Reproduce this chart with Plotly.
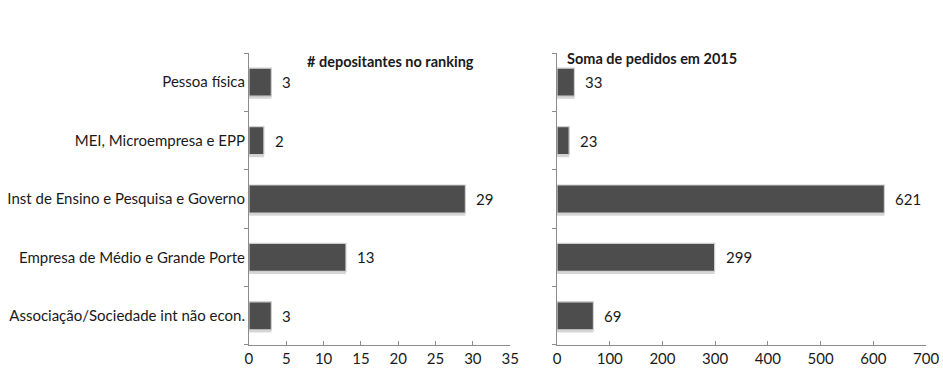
import plotly.graph_objects as go

categories = [
    "Pessoa física",
    "MEI, Microempresa e EPP",
    "Inst de Ensino e Pesquisa e Governo",
    "Empresa de Médio e Grande Porte",
    "Associação/Sociedade int não econ.",
]
depositantes = [3, 2, 29, 13, 3]
pedidos_2015 = [33, 23, 621, 299, 69]

left_title = "# depositantes no ranking"
right_title = "Soma de pedidos em 2015"
left_ticks = [0, 5, 10, 15, 20, 25, 30, 35]
right_ticks = [0, 100, 200, 300, 400, 500, 600, 700]

FONT = "Lato, 'Open Sans', sans-serif"
BAR = "#4d4d4d"
TXT = "#1a1a1a"

fig = go.Figure()
value_labels = []

def add_panel(values, xa, ya):
    # soft drop shadow just under each bar
    fig.add_trace(go.Bar(
        x=values, y=categories, orientation="h",
        marker=dict(color="rgba(0,0,0,0.16)", line=dict(width=0)),
        width=0.48, offset=-0.285, xaxis=xa, yaxis=ya,
        hoverinfo="skip", showlegend=False,
    ))
    fig.add_trace(go.Bar(
        x=values, y=categories, orientation="h",
        marker=dict(color=BAR, line=dict(color="#cfcfcf", width=1.2)),
        width=0.48, offset=-0.24, xaxis=xa, yaxis=ya,
        showlegend=False,
    ))
    for v, c in zip(values, categories):
        value_labels.append(dict(
            x=v, y=c, xref=xa, yref=ya, text=str(v), showarrow=False,
            xanchor="left", xshift=9,
            font=dict(family=FONT, size=15, color=TXT),
        ))

add_panel(depositantes, "x", "y")
add_panel(pedidos_2015, "x2", "y2")

ydom = [0.0726, 0.8575]
axis_common = dict(
    showgrid=False, zeroline=False, showline=True, linecolor="#8c8c8c",
    linewidth=1, tickcolor="#8c8c8c",
    tickfont=dict(family=FONT, size=15, color=TXT), automargin=False,
)
xaxis_common = dict(axis_common, ticks="inside", ticklen=4)
yaxis_common = dict(axis_common, ticks="outside", ticklen=4,
                    type="category", categoryorder="array",
                    categoryarray=categories[::-1], tickson="boundaries",
                    domain=ydom)

fig.update_layout(
    width=943, height=372,
    margin=dict(l=0, r=0, t=0, b=0),
    paper_bgcolor="white", plot_bgcolor="white",
    barmode="overlay",
    xaxis=dict(xaxis_common, domain=[0.264, 0.541], range=[0, 35],
               tickvals=left_ticks, anchor="y"),
    yaxis=dict(yaxis_common, anchor="x",
               tickfont=dict(family=FONT, size=15, color=TXT)),
    xaxis2=dict(xaxis_common, domain=[0.5907, 0.982], range=[0, 700],
                tickvals=right_ticks, anchor="y2"),
    yaxis2=dict(yaxis_common, showticklabels=False, anchor="x2"),
    annotations=value_labels + [
        dict(text="<b>" + left_title + "</b>", xref="paper", yref="paper",
             x=0.414, y=0.836, yanchor="middle", showarrow=False,
             font=dict(family=FONT, size=14.5, color=TXT)),
        dict(text="<b>" + right_title + "</b>", xref="paper", yref="paper",
             x=0.784, y=0.844, yanchor="middle", showarrow=False,
             font=dict(family=FONT, size=14.5, color=TXT)),
    ],
)

fig.write_html("out.html")
